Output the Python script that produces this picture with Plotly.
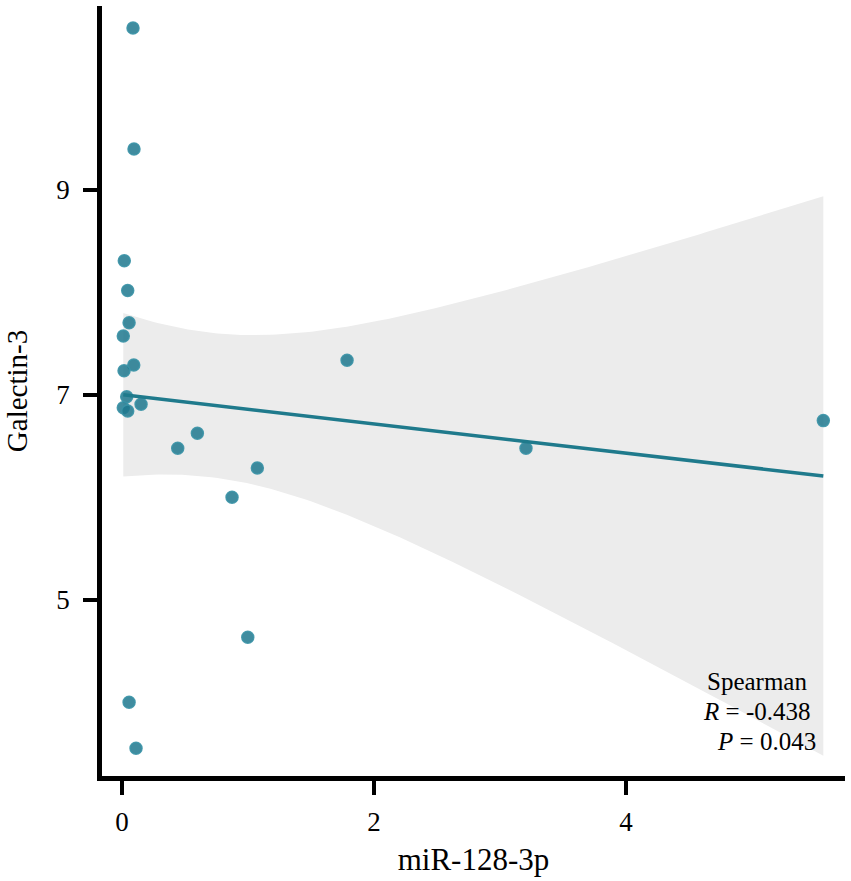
import numpy as np
import plotly.graph_objects as go

# Data
mir_128_3p = [0.087, 0.095, 0.018, 0.045, 0.056, 0.010, 0.093, 0.016, 1.786, 0.037, 0.010,
              0.045, 0.151, 0.598, 0.442, 1.074, 0.873, 0.998, 3.206, 5.566, 0.056, 0.111]
galectin_3 = [10.58, 9.40, 8.31, 8.02, 7.705, 7.576, 7.293, 7.237, 7.34, 6.983, 6.876,
              6.844, 6.909, 6.626, 6.48, 6.288, 6.002, 4.636, 6.48, 6.75, 4.002, 3.553]
x_ticks = [0, 2, 4]
y_ticks = [5, 7, 9]
stat_lines = ["Spearman", "<i>R</i> = -0.438", "<i>P</i> = 0.043"]

x = np.array(mir_128_3p)
y = np.array(galectin_3)
n = len(x)

# Linear fit with 95% confidence band (as geom_smooth(method="lm"))
slope, intercept = np.polyfit(x, y, 1)
resid = y - (slope * x + intercept)
s = np.sqrt(np.sum(resid ** 2) / (n - 2))
sxx = np.sum((x - x.mean()) ** 2)
t_crit = 2.0860  # t(0.975, df=20)
xg = np.linspace(x.min(), x.max(), 120)
yg = slope * xg + intercept
se = s * np.sqrt(1.0 / n + (xg - x.mean()) ** 2 / sxx)
lo = yg - t_crit * se
hi = yg + t_crit * se

fig = go.Figure()
fig.add_trace(go.Scatter(x=xg, y=lo, mode="lines", line=dict(width=0), hoverinfo="skip", showlegend=False))
fig.add_trace(go.Scatter(x=xg, y=hi, mode="lines", line=dict(width=0), fill="tonexty",
                         fillcolor="#ECECEC", hoverinfo="skip", showlegend=False))
fig.add_trace(go.Scatter(x=x, y=y, mode="markers",
                         marker=dict(size=12, color="rgba(30,120,142,0.85)",
                                     line=dict(width=1.5, color="rgba(58,146,166,0.9)")),
                         showlegend=False))
fig.add_trace(go.Scatter(x=xg, y=yg, mode="lines", line=dict(color="#1F7A8C", width=3.5),
                         showlegend=False))

font_family = "Liberation Serif, Times New Roman, serif"
fig.update_layout(
    width=851, height=881,
    margin=dict(l=102, r=6, t=6, b=105),
    plot_bgcolor="white", paper_bgcolor="white",
    font=dict(family=font_family, color="black", size=24),
    xaxis=dict(range=[-0.159, 5.738], tickvals=x_ticks, ticks="outside", ticklen=14, tickwidth=4,
               tickcolor="black", showline=True, linecolor="black", linewidth=4.5,
               showgrid=False, zeroline=False, tickfont=dict(size=27), ticklabelstandoff=4,
               title=dict(text="miR-128-3p", font=dict(size=31), standoff=14)),
    yaxis=dict(range=[3.283, 10.795], tickvals=y_ticks, ticks="outside", ticklen=14, tickwidth=4,
               tickcolor="black", showline=True, linecolor="black", linewidth=4.5,
               showgrid=False, zeroline=False, tickfont=dict(size=27), ticklabelstandoff=8,
               title=dict(text="Galectin-3", font=dict(size=29), standoff=22)),
)

ys = [0.1225, 0.0835, 0.0445]
xs = [0.951, 0.955, 0.963]
for txt, yy, xx in zip(stat_lines, ys, xs):
    fig.add_annotation(text=txt, xref="paper", yref="paper", x=xx, y=yy, xanchor="right",
                       yanchor="middle", showarrow=False, font=dict(size=25, family=font_family))

fig.write_html("out.html", config={"displayModeBar": False},
               post_script="document.body.style.margin='0';")
